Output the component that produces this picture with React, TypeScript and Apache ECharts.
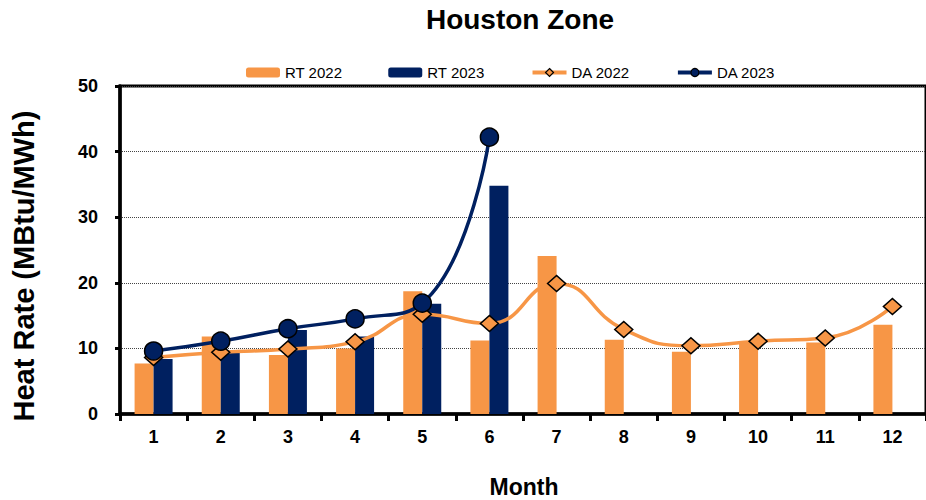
import React, { useEffect, useRef } from "react";
import * as echarts from "echarts";

const months = ["1", "2", "3", "4", "5", "6", "7", "8", "9", "10", "11", "12"];
const rt2022 = [7.7, 11.8, 9.0, 10.0, 18.7, 11.2, 24.1, 11.3, 9.5, 11.0, 10.9, 13.6];
const rt2023: (number | null)[] = [8.4, 9.4, 12.8, 11.8, 16.8, 34.8, null, null, null, null, null, null];
const da2022 = [8.6, 9.4, 9.9, 11.0, 15.2, 13.8, 19.9, 12.9, 10.4, 11.1, 11.6, 16.4];
const da2023: (number | null)[] = [9.6, 11.1, 13.0, 14.5, 16.9, 42.2, null, null, null, null, null, null];

const ORANGE = "#F79646";
const NAVY = "#002060";
const FONT = '"Liberation Sans", Arial, sans-serif';

export default function App() {
  const ref = useRef<HTMLDivElement>(null);
  useEffect(() => {
    if (!ref.current) return;
    const chart = echarts.init(ref.current, null, { renderer: "svg" });
    chart.setOption({
      animation: false,
      backgroundColor: "#fff",
      textStyle: { fontFamily: FONT },
      legend: {
        left: 241,
        top: 60,
        itemWidth: 34,
        itemHeight: 10,
        itemGap: 46,
        textStyle: { fontFamily: FONT, fontSize: 15, color: "#000" },
        data: [
          { name: "RT 2022" },
          { name: "RT 2023" },
          { name: "DA 2022", lineStyle: { width: 4, color: ORANGE }, itemStyle: { color: ORANGE, borderColor: "#000", borderWidth: 1.2 } },
          { name: "DA 2023", lineStyle: { width: 4, color: NAVY }, itemStyle: { color: NAVY, borderColor: "#000", borderWidth: 1.2 } },
        ],
      },
      grid: { left: 120, right: -6, top: 86, bottom: 86, show: true, borderColor: "#000", borderWidth: 3 },
      xAxis: {
        type: "category",
        data: months,
        axisLine: { lineStyle: { color: "#000", width: 3.5 } },
        axisTick: { show: true, length: 7, lineStyle: { color: "#000", width: 3 } },
        axisLabel: { color: "#000", fontSize: 18, fontWeight: "bold", margin: 14, fontFamily: FONT },
      },
      yAxis: {
        type: "value",
        min: 0,
        max: 50,
        interval: 10,
        axisLine: { show: true, lineStyle: { color: "#000", width: 3.5 } },
        axisTick: { show: true, length: 5, lineStyle: { color: "#000", width: 3 } },
        axisLabel: { color: "#000", fontSize: 18, fontWeight: "bold", margin: 22, fontFamily: FONT },
        splitLine: { lineStyle: { color: "#444", type: [1, 1], width: 1 } },
      },
      graphic: [
        {
          type: "text",
          x: 520,
          y: 19,
          style: { text: "Houston Zone", font: `bold 28px ${FONT}`, fill: "#000", textAlign: "center", textVerticalAlign: "middle" },
        },
        {
          type: "text",
          x: 524,
          y: 487,
          style: { text: "Month", font: `bold 23px ${FONT}`, fill: "#000", textAlign: "center", textVerticalAlign: "middle" },
        },
        {
          type: "text",
          x: 23.5,
          y: 266,
          rotation: Math.PI / 2,
          style: { text: "Heat Rate (MBtu/MWh)", font: `bold 29px ${FONT}`, fill: "#000", textAlign: "center", textVerticalAlign: "middle" },
        },
      ],
      series: [
        { name: "RT 2022", type: "bar", data: rt2022, barWidth: 19, barGap: "0%", itemStyle: { color: ORANGE } },
        { name: "RT 2023", type: "bar", data: rt2023, barWidth: 19, barGap: "0%", itemStyle: { color: NAVY } },
        {
          name: "DA 2022",
          type: "line",
          data: da2022,
          smooth: 0.5,
          symbol: "diamond",
          symbolSize: [18, 16],
          lineStyle: { color: ORANGE, width: 3.5 },
          itemStyle: { color: ORANGE, borderColor: "#000", borderWidth: 1.5 },
          z: 3,
        },
        {
          name: "DA 2023",
          type: "line",
          data: da2023,
          smooth: 0.5,
          symbol: "circle",
          symbolSize: 18,
          lineStyle: { color: NAVY, width: 3.5 },
          itemStyle: { color: NAVY, borderColor: "#000", borderWidth: 1.5 },
          z: 4,
        },
      ],
    });
    return () => chart.dispose();
  }, []);
  return <div ref={ref} style={{ width: 926, height: 500, position: "absolute", left: 0, top: 0 }} />;
}
